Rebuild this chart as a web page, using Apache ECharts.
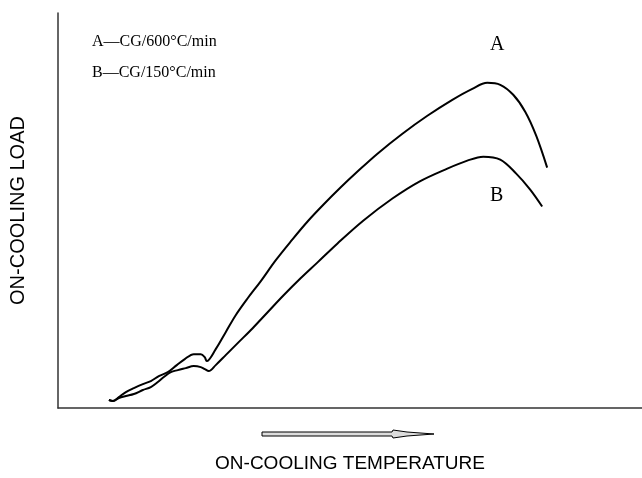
<!DOCTYPE html>
<html>
<head>
<meta charset="utf-8">
<script src="https://cdn.jsdelivr.net/npm/echarts@6/dist/echarts.min.js"></script>
<style>
  html, body { margin: 0; padding: 0; background: #fff; }
  #chart { width: 642px; height: 478px; }
</style>
</head>
<body>
<div id="chart"></div>
<script>
// On-cooling load vs. on-cooling temperature (arbitrary units on both axes)
const curveA = [
  [51, 8], [55, 7], [61, 11], [68, 16], [76, 20], [85, 24], [93, 27], [101, 32],
  [110, 36], [119, 43], [127, 49], [136, 54], [143, 54], [147, 51], [149, 47],
  [158, 59], [168, 76], [178, 93], [190, 110], [203, 127], [218, 148], [234, 168],
  [250, 187], [266, 204], [283, 221], [300, 237], [320, 255], [345, 275], [370, 293],
  [395, 309], [415, 320], [430, 326], [443, 324], [456, 314], [468, 297], [479, 273],
  [490, 241]
];
const curveB = [
  [51, 8], [55, 7], [61, 10], [68, 12], [76, 14], [85, 18], [93, 21], [100, 26],
  [106, 31], [113, 36], [120, 38], [128, 40], [136, 42], [143, 41], [147, 39],
  [151, 37], [158, 43], [168, 53], [181, 66], [195, 80], [210, 96], [226, 113],
  [243, 130], [260, 146], [280, 165], [306, 188], [335, 210], [362, 227], [390, 240],
  [410, 248], [426, 252], [443, 249], [459, 235], [473, 219], [485, 202]
];
const legendLines = ['A\u2014CG/600\u00B0C/min', 'B\u2014CG/150\u00B0C/min'];
const curveNames = ['A', 'B'];
const xTitle = 'ON-COOLING TEMPERATURE';
const yTitle = 'ON-COOLING LOAD';

const chart = echarts.init(document.getElementById('chart'));

const axisLine = { show: true, lineStyle: { color: '#333', width: 1.5 } };
const serif = '"Liberation Serif", "Times New Roman", serif';
const sans = '"Liberation Sans", Arial, sans-serif';

chart.setOption({
  animation: false,
  backgroundColor: '#fff',
  grid: { left: 57, right: 0, top: 13, bottom: 69 },
  xAxis: {
    type: 'value', min: 0, max: 585,
    axisLine, axisTick: { show: false }, axisLabel: { show: false }, splitLine: { show: false },
    name: xTitle, nameLocation: 'middle', nameGap: 46,
    nameTextStyle: { fontFamily: sans, fontSize: 19, color: '#000' }
  },
  yAxis: {
    type: 'value', min: 0, max: 396,
    axisLine, axisTick: { show: false }, axisLabel: { show: false }, splitLine: { show: false },
    name: yTitle, nameLocation: 'middle', nameGap: 30, nameRotate: 90,
    nameTextStyle: { fontFamily: sans, fontSize: 20, color: '#000' }
  },
  series: [curveA, curveB].map((d, i) => ({
    name: curveNames[i],
    type: 'line',
    data: d,
    smooth: 0.35,
    showSymbol: false,
    lineStyle: { color: '#000', width: 2 }
  })),
  graphic: [
    { type: 'text', left: 92, top: 34, style: { text: legendLines[0], font: '16px ' + serif, fill: '#000' } },
    { type: 'text', left: 92, top: 65, style: { text: legendLines[1], font: '16px ' + serif, fill: '#000' } },
    { type: 'text', left: 490, top: 35, style: { text: curveNames[0], font: '20px ' + serif, fill: '#000' } },
    { type: 'text', left: 490, top: 186, style: { text: curveNames[1], font: '20px ' + serif, fill: '#000' } },
    {
      // direction arrow under the temperature axis
      type: 'polygon',
      shape: { points: [[262, 432], [392, 432], [393, 430], [407, 432], [434, 434], [407, 436], [393, 438], [392, 436], [262, 436]] },
      style: { fill: '#ddd', stroke: '#000', lineWidth: 1 }
    }
  ]
});
</script>
</body>
</html>
